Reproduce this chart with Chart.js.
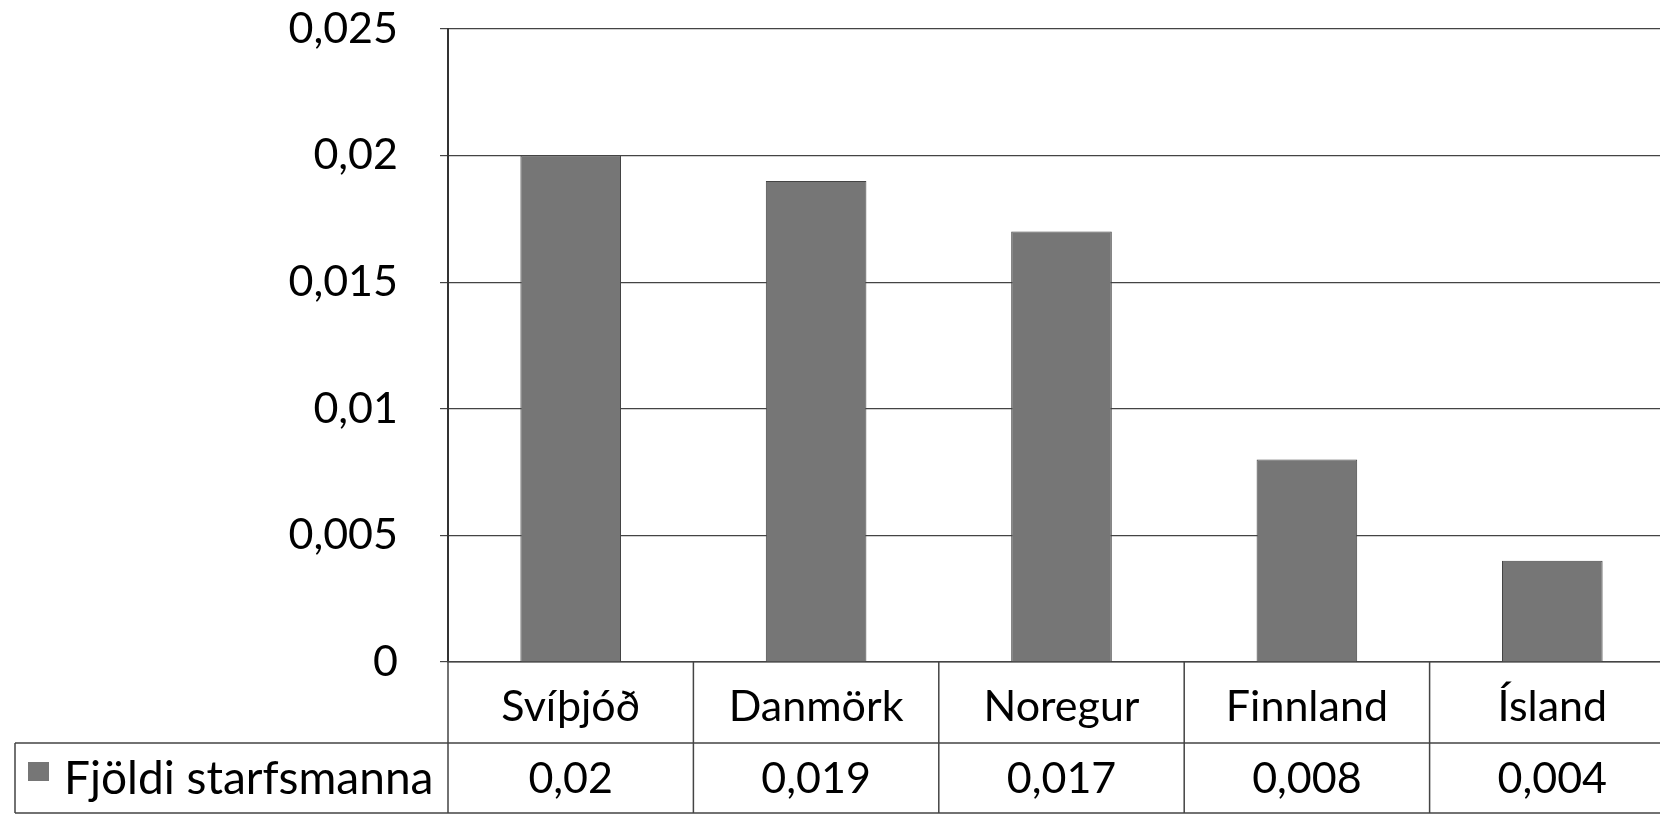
<!DOCTYPE html>
<html>
<head>
<meta charset="utf-8">
<title>Fjöldi starfsmanna</title>
<script src="https://cdn.jsdelivr.net/npm/chart.js@4"></script>
<style>
    html, body { margin: 0; padding: 0; background: #fff; overflow: hidden; }
    .chart-box { position: relative; width: 1680px; height: 815px; }
</style>
</head>
<body>
<div class="chart-box">
    <canvas id="staffChart"></canvas>
</div>
<script>
// Data
const countries = ['Svíþjóð', 'Danmörk', 'Noregur', 'Finnland', 'Ísland'];
const staffValues = [0.02, 0.019, 0.017, 0.008, 0.004];
const seriesName = 'Fjöldi starfsmanna';
const yTickLabels = ['0', '0,005', '0,01', '0,015', '0,02', '0,025'];

const FONT = 'Lato, "Open Sans", sans-serif';
const LINE = '#444';
const BAR = '#767676';

const fmt = v => String(v).replace('.', ',');

// Draws the data table under the plot (value row + legend cell + cell lines)
const dataTable = {
    id: 'dataTable',
    afterDraw(chart) {
        const c = chart.ctx;
        const x = chart.scales.x;
        const area = chart.chartArea;
        const top = area.bottom;
        const mid = top + 81;
        const bottom = 813;
        const step = (area.right - area.left) / countries.length;

        c.save();
        c.strokeStyle = LINE;
        c.lineWidth = 1.5;

        // horizontal rules
        c.beginPath();
        c.moveTo(15, mid); c.lineTo(area.right, mid);
        c.moveTo(15, bottom); c.lineTo(area.right, bottom);
        c.stroke();

        // column separators
        c.beginPath();
        for (let i = 0; i <= countries.length; i++) {
            const px = area.left + i * step;
            c.moveTo(px, top); c.lineTo(px, bottom);
        }
        c.moveTo(15, mid); c.lineTo(15, bottom);
        c.stroke();

        // legend cell
        c.fillStyle = BAR;
        c.fillRect(28, 762, 21, 19);
        c.fillStyle = '#000';
        c.font = '46px ' + FONT;
        c.textAlign = 'left';
        c.textBaseline = 'middle';
        c.fillText(seriesName, 64, (mid + bottom) / 2 + 1);

        // value row
        c.font = '43px ' + FONT;
        c.textAlign = 'center';
        staffValues.forEach((v, i) => {
            c.fillText(fmt(v), x.getPixelForValue(i), (mid + bottom) / 2 + 1);
        });
        c.restore();
    }
};

const ctx = document.getElementById('staffChart');
new Chart(ctx, {
    type: 'bar',
    data: {
        labels: countries,
        datasets: [{
            label: seriesName,
            data: staffValues,
            backgroundColor: BAR,
            borderColor: '#444',
            borderWidth: 1,
            barPercentage: 0.41,
            categoryPercentage: 1
        }]
    },
    options: {
        responsive: true,
        maintainAspectRatio: false,
        animation: false,
        layout: {
            padding: { top: 29, right: 5, bottom: 0, left: 0 }
        },
        plugins: {
            legend: { display: false },
            tooltip: { enabled: false }
        },
        scales: {
            y: {
                min: 0,
                max: 0.025,
                ticks: {
                    stepSize: 0.005,
                    color: '#000',
                    padding: 42,
                    font: { family: FONT, size: 43 },
                    callback: (value, index) => yTickLabels[index]
                },
                grid: {
                    color: LINE,
                    lineWidth: 1.2,
                    tickLength: 8
                },
                border: { color: '#333', width: 2 },
                afterFit: scale => {
                    scale.width = 448;
                    scale.paddingTop = 0;
                    scale.paddingBottom = 0;
                }
            },
            x: {
                ticks: {
                    color: '#000',
                    padding: 11,
                    font: { family: FONT, size: 43 }
                },
                grid: { display: false },
                border: { color: LINE, width: 1.5 },
                afterFit: scale => { scale.height = 153; }
            }
        }
    },
    plugins: [dataTable]
});
</script>
</body>
</html>
